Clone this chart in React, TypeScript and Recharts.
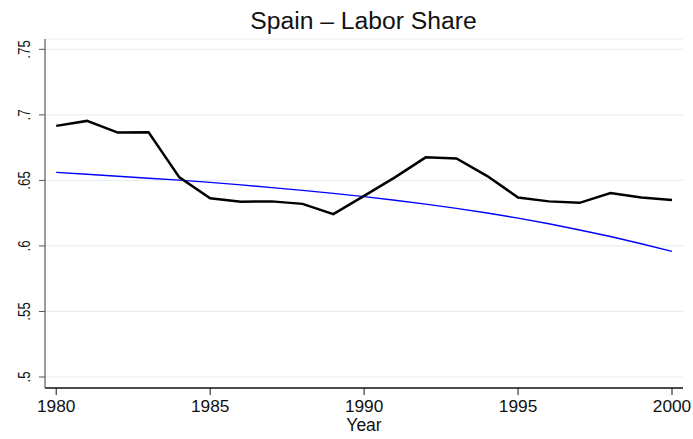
import React from "react";
import { LineChart, Line, XAxis, YAxis, CartesianGrid } from "recharts";

const years = [1980, 1981, 1982, 1983, 1984, 1985, 1986, 1987, 1988, 1989, 1990, 1991, 1992, 1993, 1994, 1995, 1996, 1997, 1998, 1999, 2000];
const laborShare = [0.6916, 0.6954, 0.6865, 0.6868, 0.6523, 0.6363, 0.6337, 0.634, 0.6321, 0.6243, 0.6382, 0.6523, 0.6676, 0.6668, 0.6533, 0.637, 0.634, 0.6329, 0.6403, 0.637, 0.635];
const trend = [0.6561, 0.6547, 0.6532, 0.6517, 0.6502, 0.6485, 0.6466, 0.6445, 0.6424, 0.6401, 0.6376, 0.6349, 0.6319, 0.6287, 0.6251, 0.6212, 0.6169, 0.6122, 0.6072, 0.6017, 0.5959];
const xTicks = [1980, 1985, 1990, 1995, 2000];
const yTicks = [0.5, 0.55, 0.6, 0.65, 0.7, 0.75];
const yTickLabels = [".5", ".55", ".6", ".65", ".7", ".75"];

const data = years.map((y, i) => ({ year: y, share: laborShare[i], trend: trend[i] }));

const FONT = "Liberation Sans, Arial, sans-serif";

const YTick = (props: any) => {
  const { y, payload } = props;
  const idx = yTicks.indexOf(payload.value);
  const label = idx >= 0 ? yTickLabels[idx] : String(payload.value);
  const bx = 29.5;
  return (
    <text
      x={0}
      y={0}
      transform={`translate(${bx}, ${y}) rotate(-90) scale(0.8, 1)`}
      textAnchor="middle"
      fontSize={16.7}
      fontFamily={FONT}
      fill="#111"
    >
      {label}
    </text>
  );
};

const XTick = (props: any) => {
  const { x, payload } = props;
  return (
    <text x={x} y={412.3} textAnchor="middle" fontSize={17.3} fontFamily={FONT} fill="#111">
      {payload.value}
    </text>
  );
};

export default function App() {
  return (
    <div style={{ position: "absolute", left: 0, top: 0, width: 693, height: 439, background: "#fff" }}>
      <svg width={693} height={439} style={{ position: "absolute", left: 0, top: 0 }}>
        <text x={363.5} y={29} textAnchor="middle" fontSize={24.7} fontFamily={FONT} fill="#111">
          Spain – Labor Share
        </text>
        <text x={364} y={431} textAnchor="middle" fontSize={17.5} fontFamily={FONT} fill="#111">
          Year
        </text>
      </svg>
      <div style={{ position: "absolute", left: 0, top: 0 }}>
        <LineChart
          width={693}
          height={439}
          data={data}
          margin={{ top: 39, right: 10, bottom: 0, left: 0 }}
        >
          <CartesianGrid vertical={false} stroke="#e8eff1" strokeWidth={1.2} />
          <XAxis
            dataKey="year"
            type="number"
            domain={[1979.636, 2000.357]}
            ticks={xTicks}
            allowDataOverflow
            tick={<XTick />}
            tickSize={7}
            axisLine={{ stroke: "#111", strokeWidth: 1.3 }}
            tickLine={{ stroke: "#111" }}
            height={51}
          />
          <YAxis
            type="number"
            domain={[0.4916, 0.7579]}
            ticks={yTicks}
            allowDataOverflow
            tick={<YTick />}
            tickSize={6}
            width={45}
            axisLine={{ stroke: "#666", strokeWidth: 1.3 }}
            tickLine={{ stroke: "#555" }}
          />
          <Line
            type="linear"
            dataKey="trend"
            stroke="#0000ff"
            strokeWidth={1.4}
            dot={false}
            isAnimationActive={false}
          />
          <Line
            type="linear"
            dataKey="share"
            stroke="#000"
            strokeWidth={2.5}
            dot={false}
            isAnimationActive={false}
          />
        </LineChart>
      </div>
    </div>
  );
}
